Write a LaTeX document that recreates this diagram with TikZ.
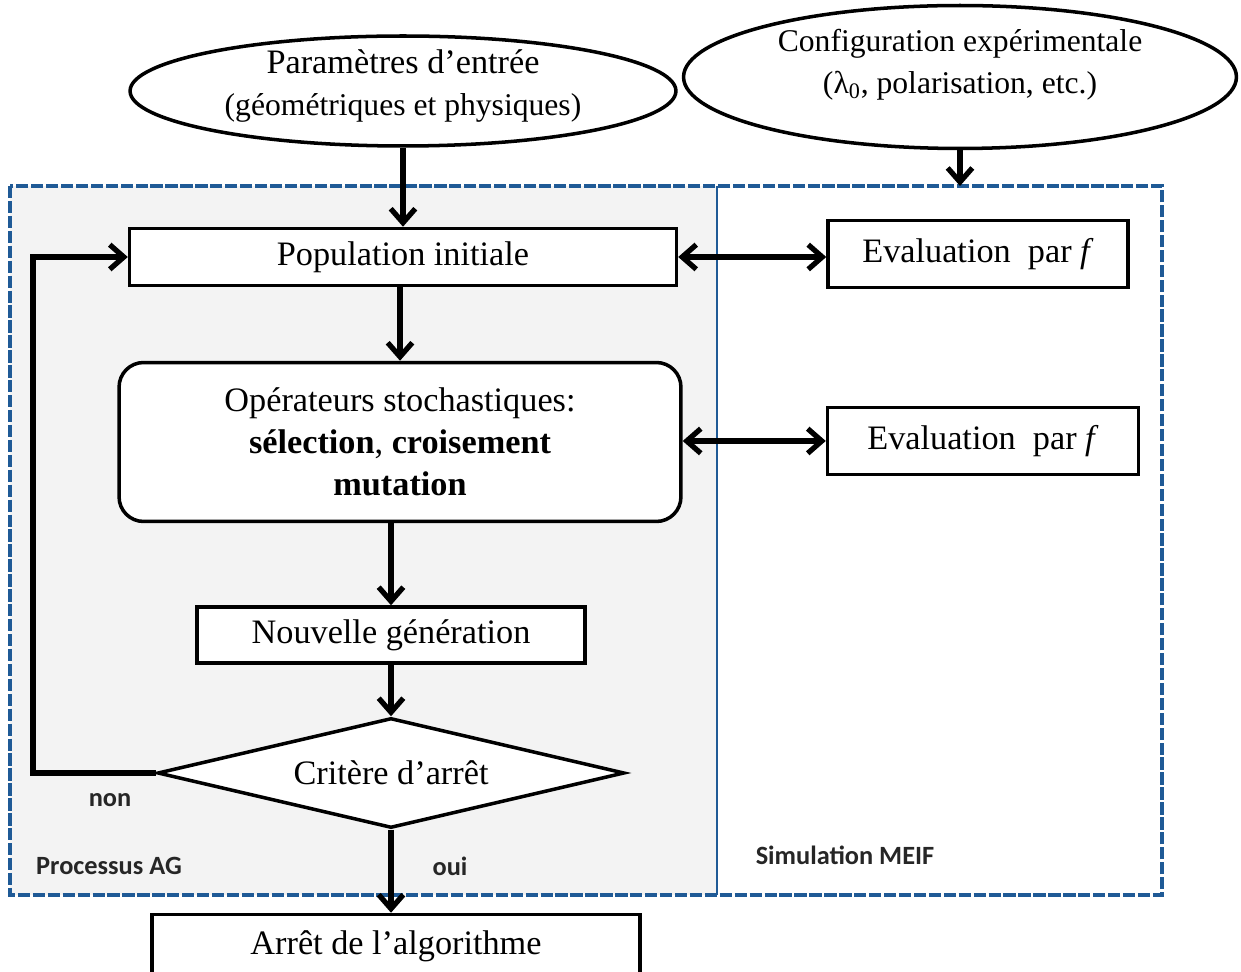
\documentclass[tikz,border=0pt]{standalone}
\usepackage{fontspec}
\setmainfont{Liberation Serif}
\newfontfamily\lblfont{Carlito}
\usetikzlibrary{arrows.meta, shapes.geometric}
\definecolor{frameblue}{HTML}{1F5A96}
\definecolor{panelgray}{HTML}{F3F3F3}

\begin{document}
\begin{tikzpicture}[x=0.02cm, y=-0.02cm,
    box/.style={draw, line width=2pt, fill=white, inner sep=0pt,
                align=center, font=\fontsize{19.5}{24}\selectfont},
    oval/.style={draw, line width=2pt, ellipse, fill=white, inner sep=0pt},
    arr/.style={-{Straight Barb[length=8pt, width=14pt]}, line width=3pt},
    dblarr/.style={{Straight Barb[length=8pt, width=14pt]}-{Straight Barb[length=8pt, width=14pt]}, line width=3pt},
    lbl/.style={font=\lblfont\fontsize{15}{18}\selectfont\bfseries, text=black!85}
  ]
    \useasboundingbox (0,0) rectangle (1241,972);
    % panels
    \fill[panelgray] (10,186) rectangle (717,895);
    \draw[frameblue, line width=1.8pt, dash pattern=on 7pt off 1.5pt] (10,186) rectangle (1162,895);
    \draw[frameblue, line width=1.6pt] (717,186) -- (717,895);
    \coordinate (frametop) at (960,186);
    \node[lbl] at (109,866) {Processus AG};
    \node[lbl] at (845,855) {Simulation MEIF};
    % inputs
    \node[oval, minimum width=10.92cm, minimum height=2.2cm] (ellA) at (403,91) {};
    \node[font=\fontsize{19.5}{20}\selectfont, align=center] at (403,86)
      {Paramètres d'entrée\\[4pt]{\fontsize{18}{20}\selectfont(géométriques et physiques)}};
    \node[oval, minimum width=11.06cm, minimum height=2.86cm] (ellB) at (960,77) {};
    \node[font=\fontsize{18}{20}\selectfont, align=center] at (960,65)
      {Configuration expérimentale\\[4pt](λ\textsubscript{0}, polarisation, etc.)};
    % GA loop
    \node[box, minimum width=10.94cm, minimum height=1.14cm] (pop) at (403,257) {Population initiale};
    \node[box, rounded corners=14pt, minimum width=11.24cm, minimum height=3.18cm] (oper) at (400,442)
      {Opérateurs stochastiques:\\\textbf{sélection}, \textbf{croisement}\\\textbf{mutation}};
    \node[box, minimum width=7.76cm, minimum height=1.12cm] (nouv) at (391,635) {Nouvelle génération};
    \node[box, diamond, aspect=4.25, minimum width=9.34cm, minimum height=2.2cm] (crit) at (391,773) {Critère d'arrêt};
    \node[box, minimum width=9.76cm, minimum height=1.26cm] (arret) at (396,946) {Arrêt de l'algorithme};
    % MEIF side
    \node[box, minimum width=6cm, minimum height=1.34cm] (evalA) at (978,254) {Evaluation\ \ par \textit{f}};
    \node[box, minimum width=6.22cm, minimum height=1.34cm] (evalB) at (983,441) {Evaluation\ \ par \textit{f}};
    \coordinate (back) at (33,773);
    % connectors
    \draw[arr] (ellA.south) -- (ellA.south |- pop.north);
    \draw[arr] (ellB.south) -- (frametop);
    \draw[arr] (oper.north |- pop.south) -- (oper.north);
    \draw[arr] (nouv.north |- oper.south) -- (nouv.north);
    \draw[arr] (nouv.south) -- (crit.north);
    \draw[arr] (crit.south) -- (crit.south |- arret.north);
    \draw[arr] (crit.west) -- (back) |- (pop.west);
    \draw[dblarr] (pop.east) -- (pop.east -| evalA.west);
    \draw[dblarr] (oper.east |- evalB.west) -- (evalB.west);
    \node[lbl] at (110,800) {non};
    \node[lbl] at (450,866) {oui};
  \end{tikzpicture}
\end{document}
